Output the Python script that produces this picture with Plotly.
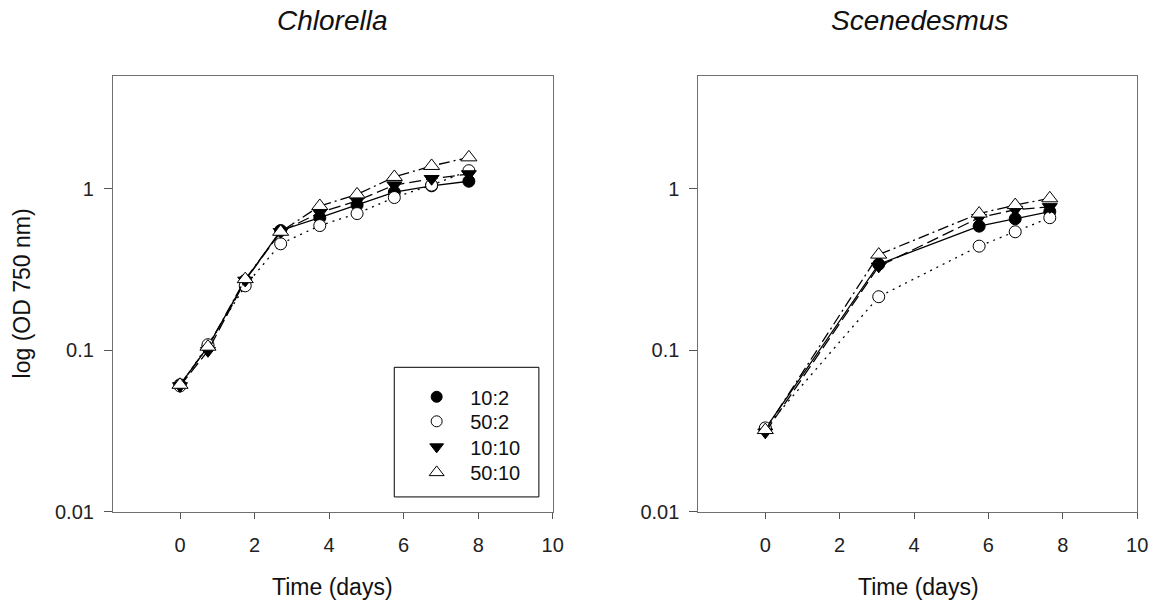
import plotly.graph_objects as go

# ---- data ----
series_names = ["10:2", "50:2", "10:10", "50:10"]

chl_days = [0, 0.75, 1.75, 2.7, 3.75, 4.75, 5.75, 6.75, 7.75]
chl_10_2 = [0.061, 0.105, 0.27, 0.55, 0.66, 0.79, 0.95, 1.04, 1.11]
chl_50_2 = [0.060, 0.108, 0.25, 0.455, 0.59, 0.70, 0.88, 1.05, 1.29]
chl_10_10 = [0.060, 0.099, 0.27, 0.54, 0.71, 0.84, 1.05, 1.15, 1.23]
chl_50_10 = [0.061, 0.105, 0.275, 0.54, 0.78, 0.92, 1.18, 1.38, 1.56]

sce_days = [0, 3.05, 5.75, 6.72, 7.65]
sce_10_2 = [0.0325, 0.34, 0.585, 0.65, 0.72]
sce_50_2 = [0.033, 0.214, 0.44, 0.54, 0.66]
sce_10_10 = [0.031, 0.33, 0.66, 0.74, 0.77]
sce_50_10 = [0.032, 0.39, 0.70, 0.79, 0.87]

x_ticks = [0, 2, 4, 6, 8, 10]
y_ticks = [0.01, 0.1, 1]
y_ticklabels = ["0.01", "0.1", "1"]

# ---- styles ----
styles = {
    "10:2": dict(symbol="circle", fill="black", size=12, dash="solid"),
    "50:2": dict(symbol="circle", fill="white", size=12, dash="2px,5px"),
    "10:10": dict(symbol="triangle-down", fill="black", size=13, dash="12px,5px"),
    "50:10": dict(symbol="triangle-up", fill="white", size=14, dash="11px,4px,2px,4px"),
}

fig = go.Figure()

def add_panel(days, vals, xa, ya):
    for name, v in zip(series_names, vals):
        s = styles[name]
        fig.add_trace(go.Scatter(
            x=days, y=v, mode="lines+markers", name=name, showlegend=False,
            xaxis=xa, yaxis=ya, hoverinfo="skip",
            line=dict(color="black", width=1.3, dash=s["dash"]),
            marker=dict(symbol=s["symbol"], size=s["size"], color=s["fill"],
                        line=dict(color="black", width=1)),
        ))

add_panel(chl_days, [chl_10_2, chl_50_2, chl_10_10, chl_50_10], "x", "y")
add_panel(sce_days, [sce_10_2, sce_50_2, sce_10_10, sce_50_10], "x2", "y2")

W, H = 1168, 614

def px(x):
    return x / W

def py(y):
    return 1 - y / H

font = "Liberation Sans, Arial, sans-serif"
legend_font = dict(family=font, size=20, color="#111111")
legend_rows = [404, 429, 455, 481]
legend_ids = ["legend", "legend2", "legend3", "legend4"]

# legend entries (markers only), one small legend per row
for name, lid in zip(series_names, legend_ids):
    s = styles[name]
    fig.add_trace(go.Scatter(
        x=[None], y=[None], mode="markers", name=name, xaxis="x", yaxis="y",
        legend=lid,
        marker=dict(symbol=s["symbol"], size=s["size"] - 1, color=s["fill"],
                    line=dict(color="black", width=1)),
    ))

legend_layout = {}
for lid, ry in zip(legend_ids, legend_rows):
    legend_layout[lid] = dict(
        x=px(407), y=py(ry), xanchor="left", yanchor="middle",
        bgcolor="rgba(0,0,0,0)", borderwidth=0, font=legend_font,
        itemwidth=57, tracegroupgap=0,
    )

axis_common = dict(
    showgrid=False, zeroline=False, showline=True, linecolor="#707070", linewidth=1,
    mirror=True, ticks="outside", tickcolor="#555555", tickwidth=1,
    tickfont=dict(family=font, size=20, color="#222222"),
)

xcommon = dict(axis_common, range=[-1.8, 10], tickvals=x_ticks, ticklen=6,
               ticklabelstandoff=9)
ycommon = dict(axis_common, type="log", range=[-2, 0.699], tickvals=y_ticks,
               ticktext=y_ticklabels, ticklen=8, ticklabelstandoff=6)

title_font = dict(family=font, size=28, color="#111111")
axis_title_font = dict(family=font, size=23, color="#111111")

fig.update_layout(
    width=W, height=H,
    margin=dict(l=0, r=0, t=0, b=0),
    paper_bgcolor="white", plot_bgcolor="white",
    hovermode=False,
    xaxis=dict(xcommon, domain=[px(114), px(558)], anchor="y"),
    yaxis=dict(ycommon, domain=[py(521), py(77)], anchor="x"),
    xaxis2=dict(xcommon, domain=[px(705), px(1148)], anchor="y2"),
    yaxis2=dict(ycommon, domain=[py(521), py(77)], anchor="x2"),
    showlegend=True,
    **legend_layout,
    shapes=[dict(type="rect", xref="paper", yref="paper",
                 x0=px(398), x1=px(544), y0=py(506), y1=py(374),
                 line=dict(color="black", width=1))],
    annotations=[
        dict(text="<i>Chlorella</i>", x=px(336), y=py(21), xref="paper", yref="paper",
             showarrow=False, xanchor="center", yanchor="middle", font=title_font),
        dict(text="<i>Scenedesmus</i>", x=px(928), y=py(21), xref="paper", yref="paper",
             showarrow=False, xanchor="center", yanchor="middle", font=title_font),
        dict(text="Time (days)", x=px(336), y=py(598), xref="paper", yref="paper",
             showarrow=False, xanchor="center", yanchor="middle", font=axis_title_font),
        dict(text="Time (days)", x=px(927), y=py(598), xref="paper", yref="paper",
             showarrow=False, xanchor="center", yanchor="middle", font=axis_title_font),
        dict(text="log (OD 750 nm)", x=px(22), y=py(299), xref="paper", yref="paper",
             showarrow=False, xanchor="center", yanchor="middle", textangle=-90,
             font=axis_title_font),
    ],
)

# remove the default 8px page margin so the figure sits at the window origin
fig.write_html("out.html", config={"displayModeBar": False},
               post_script="document.body.style.margin='0';")
